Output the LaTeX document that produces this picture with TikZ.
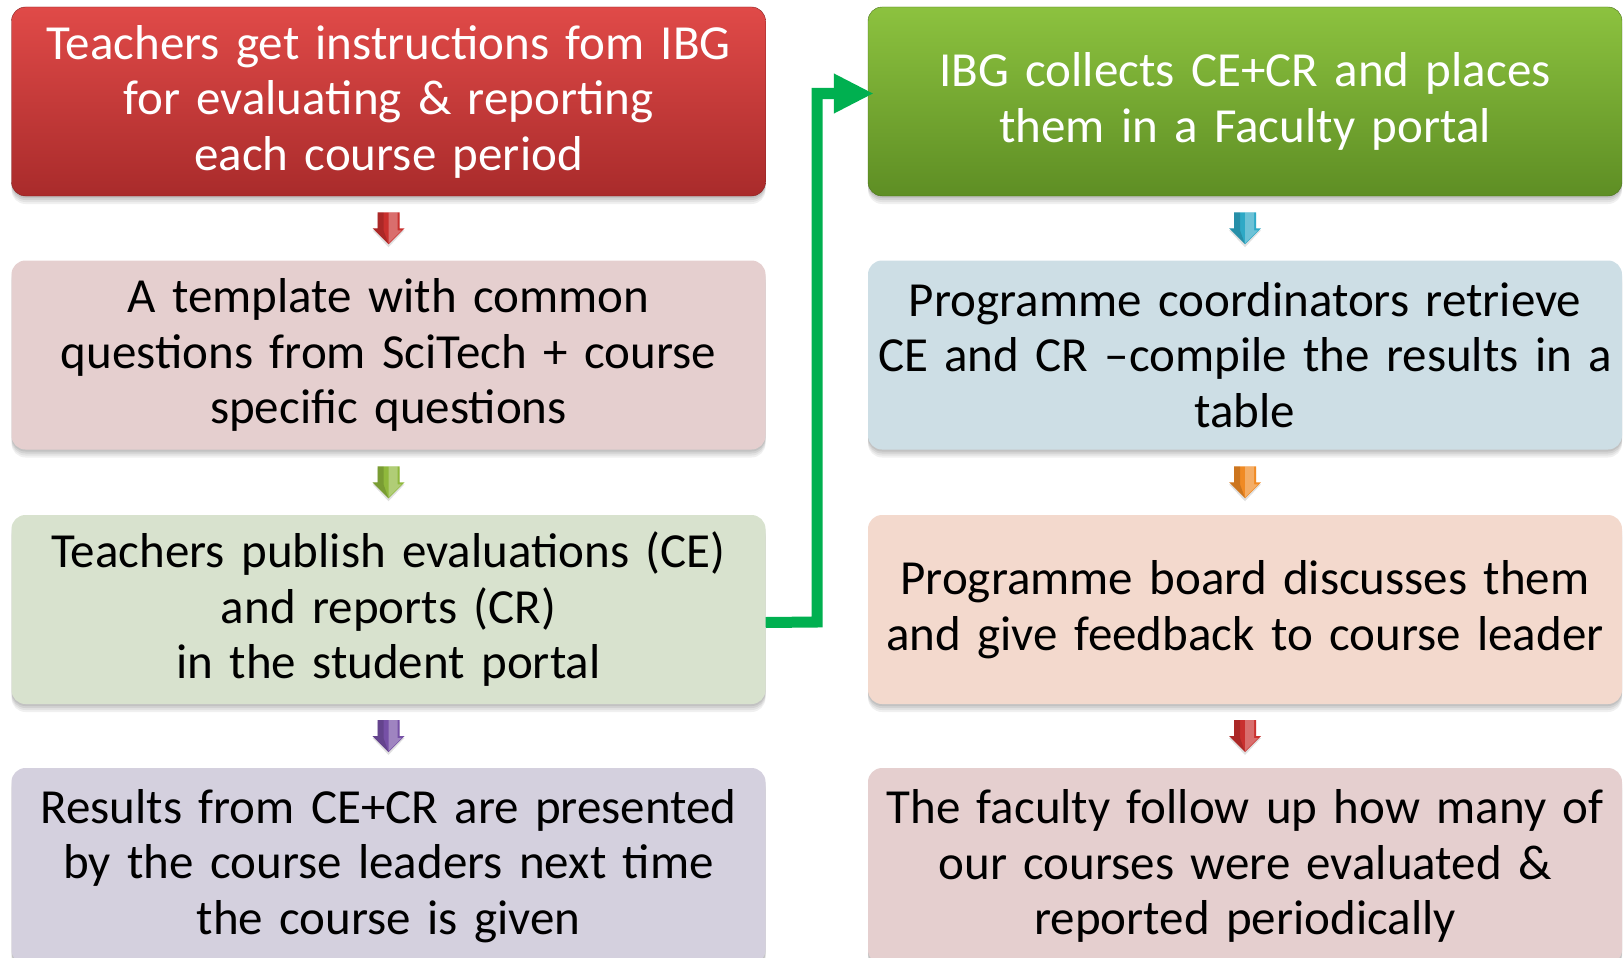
\documentclass[tikz,border=0pt]{standalone}
\usepackage{fontspec}
\setmainfont{Carlito}
\usetikzlibrary{arrows.meta,calc}
\definecolor{redtop}{HTML}{E04A48}
\definecolor{redbot}{HTML}{A92B2B}
\definecolor{greentop}{HTML}{8CC23F}
\definecolor{greenbot}{HTML}{5E8E24}
\definecolor{pinkbox}{HTML}{E5CFCF}
\definecolor{bluebox}{HTML}{CDDEE5}
\definecolor{lgreenbox}{HTML}{D8E2CE}
\definecolor{peachbox}{HTML}{F3D9CD}
\definecolor{lavbox}{HTML}{D4D0DE}
\definecolor{connector}{HTML}{00B050}
\definecolor{arrred}{HTML}{C9302E}
\definecolor{arrgreen}{HTML}{8FB83C}
\definecolor{arrpurple}{HTML}{7650A6}
\definecolor{arrcyan}{HTML}{2EA9C6}
\definecolor{arrorange}{HTML}{F08A24}
\begin{document}
\begin{tikzpicture}[x=1pt,y=-1pt,
  softshadow/.style={
    preaction={fill=black, opacity=0.06, transform canvas={yshift=-8pt}},
    preaction={fill=black, opacity=0.06, transform canvas={yshift=-6pt}},
    preaction={fill=black, opacity=0.07, transform canvas={yshift=-4pt}},
    preaction={fill=black, opacity=0.08, transform canvas={yshift=-2pt}}},
  box/.style={rounded corners=14pt, minimum width=754pt, minimum height=189pt,
    text width=745pt, align=center, inner sep=0pt,
    font=\fontsize{49}{55.5}\selectfont, softshadow},
  paleboxl/.style={box, fill=#1},
  darrow/.pic={
    \fill[black, opacity=0.12] (-11,-14) -- (11,-14) -- (11,2) -- (16,2) -- (0,19) -- (-16,2) -- (-11,2) -- cycle;
    \fill[pic actions] (-11,-16) -- (11,-16) -- (11,0) -- (16,0) -- (0,16) -- (-16,0) -- (-11,0) -- cycle;
    \fill[white, opacity=0.3] (0,-16) -- (9,-16) -- (9,2) -- (13,2) -- (0,15) -- cycle;
    \fill[black, opacity=0.15] (-11,-16) -- (-5,-16) -- (-5,2) -- (0,16) -- (-16,0) -- (-11,0) -- cycle;},
]
\useasboundingbox (0,0) rectangle (1623,958);

\node[box, top color=redtop, bottom color=redbot, draw=redbot!80!black, text=white] (l1) at (388.5,101.5)
  {Teachers get instructions fom IBG\\for evaluating \& reporting\\each course period};
\node[paleboxl=pinkbox] (l2) at (388.5,355)
  {A template with common\\questions from SciTech + course\\specific questions};
\node[paleboxl=lgreenbox] (l3) at (388.5,609.5)
  {Teachers publish evaluations (CE)\\and reports (CR)\\in the student portal};
\node[paleboxl=lavbox, minimum height=196pt] (l4) at (388.5,866)
  {Results from CE+CR are presented\\by the course leaders next time\\the course is given};

\node[box, top color=greentop, bottom color=greenbot, draw=greenbot!80!black, text=white] (r1) at (1245,101.5)
  {IBG collects CE+CR and places\\them in a Faculty portal};
\node[paleboxl=bluebox] (r2) at (1245,355)
  {Programme coordinators retrieve\\CE and CR --compile the results in a\\table};
\node[paleboxl=peachbox] (r3) at (1245,609.5)
  {Programme board discusses them\\and give feedback to course leader};
\node[paleboxl=pinkbox, minimum height=196pt] (r4) at (1245,866)
  {The faculty follow up how many of\\our courses were evaluated \&\\reported periodically};

\pic[fill=arrred] at ($(l1.south)!0.5!(l2.north)$) {darrow};
\pic[fill=arrgreen] at ($(l2.south)!0.5!(l3.north)$) {darrow};
\pic[fill=arrpurple] at ($(l3.south)!0.5!(l4.north)$) {darrow};
\pic[fill=arrcyan] at ($(r1.south)!0.5!(r2.north)$) {darrow};
\pic[fill=arrorange] at ($(r2.south)!0.5!(r3.north)$) {darrow};
\pic[fill=arrred] at ($(r3.south)!0.5!(r4.north)$) {darrow};

\coordinate (bend) at (817,622);
\draw[connector, line width=11pt, -{Triangle[length=40pt,width=37pt]}]
  ([yshift=-13pt]l3.east) -- (bend) |- ([xshift=6pt,yshift=8pt]r1.west);
\end{tikzpicture}
\end{document}
